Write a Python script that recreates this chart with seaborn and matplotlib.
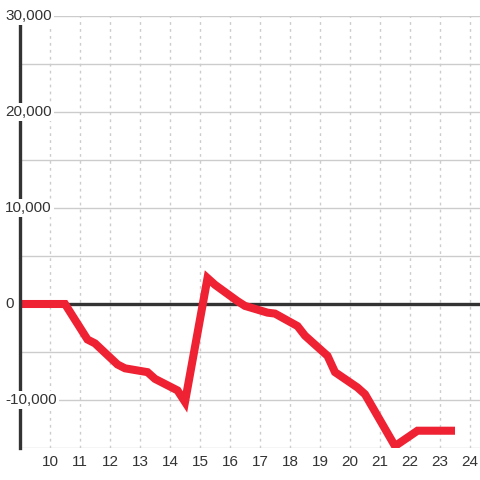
import matplotlib
matplotlib.use("Agg")
import matplotlib.pyplot as plt
import seaborn as sns
import pandas as pd
import matplotlib.transforms as mtransforms

hours = [9.0, 10.5, 11.25, 11.5, 12.25, 12.5, 13.25, 13.5, 14.25, 14.5,
         15.25, 15.5, 16.25, 16.5, 17.25, 17.5, 18.25, 18.5, 19.25, 19.5,
         20.25, 20.5, 21.5, 22.25, 23.5]
values = [0, 0, -3700, -4100, -6300, -6700, -7100, -7800, -9000, -10200,
          2700, 2000, 300, -200, -900, -1000, -2300, -3300, -5400, -7100,
          -8700, -9400, -14800, -13200, -13200]
x_ticks = list(range(10, 25))
y_ticks = [-10000, 0, 10000, 20000, 30000]
y_grid = list(range(-15000, 30001, 5000))

df = pd.DataFrame({"hour": hours, "value": values})

sns.set_style("white")
plt.rcParams["font.family"] = ["Liberation Sans", "DejaVu Sans"]

fig = plt.figure(figsize=(4.8, 4.8), dpi=100)
ax = fig.add_axes([20 / 480, 32 / 480, 460 / 480, 432 / 480])
ax.set_xlim(9, 9 + 460 / 30)
ax.set_ylim(-15000, 30000)

for g in y_grid:
    ax.axhline(g, color="#cccccc", lw=1, zorder=1)
for t in x_ticks:
    ax.axvline(t, color="#cccccc", lw=1, ls=(0, (2, 3)), zorder=1)
ax.axhline(0, color="#333333", lw=2.4, zorder=2)

sns.lineplot(data=df, x="hour", y="value", ax=ax, color="#ee2233",
             lw=5.8, zorder=3, solid_capstyle="butt", solid_joinstyle="miter")

for s in ["top", "right", "bottom"]:
    ax.spines[s].set_visible(False)
ax.spines["left"].set_color("#333333")
ax.spines["left"].set_linewidth(2.4)
ax.spines["left"].set_zorder(4)

ax.set_xticks(x_ticks)
ax.set_xticklabels([str(t) for t in x_ticks])
ax.tick_params(axis="x", length=0, pad=5, labelsize=11, labelcolor="#333333")
ax.set_yticks([])
ax.set_xlabel("")
ax.set_ylabel("")

trans = mtransforms.blended_transform_factory(fig.transFigure, ax.transData)
for v in y_ticks:
    ax.text(5 / 480, v, f"{v:,}", transform=trans,
            ha="left", va="center", fontsize=11, color="#333333",
            zorder=10, clip_on=False,
            bbox=dict(facecolor="white", edgecolor="none", pad=1.5))

fig.savefig("out.png", dpi=100)
